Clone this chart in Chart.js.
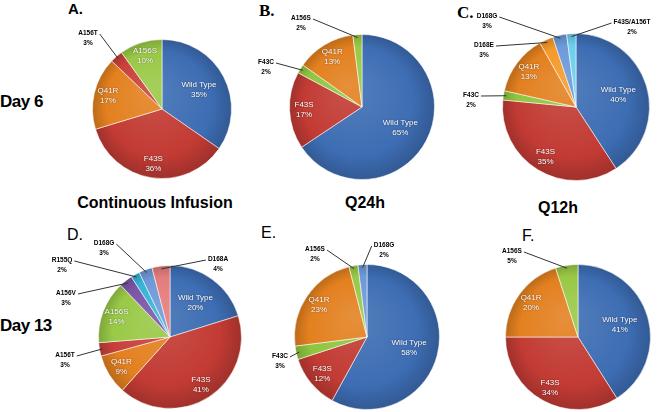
<!DOCTYPE html>
<html>
<head>
<meta charset="utf-8">
<style>
  body { margin: 0; background: #fff; }
  #wrap { position: relative; width: 664px; height: 412px; overflow: hidden; font-family: "Liberation Sans", Arial, sans-serif; }
  #wrap canvas { position: absolute; left: 0; top: 0; }
  .t { position: absolute; white-space: nowrap; color: #000; }
  .row { font-weight: bold; font-size: 17px; letter-spacing: -0.5px; }
  .col { font-weight: bold; font-size: 16px; letter-spacing: 0px; transform: translateX(-50%); }
  .pl { font-size: 15px; }
</style>
</head>
<body>
<div id="wrap">
  <div class="t row" style="left:0px;top:92px;">Day 6</div>
  <div class="t row" style="left:0px;top:316px;">Day 13</div>
  <div class="t col" style="left:155px;top:194px;">Continuous Infusion</div>
  <div class="t col" style="left:365px;top:194px;">Q24h</div>
  <div class="t col" style="left:558px;top:199px;">Q12h</div>
  <div class="t pl" style="left:68px;top:0px;font-weight:bold;">A.</div>
  <div class="t pl" style="left:259px;top:1px;font-family:'Liberation Serif';font-weight:bold;font-size:17px;">B.</div>
  <div class="t pl" style="left:457px;top:3px;font-family:'Liberation Serif';font-weight:bold;font-size:17px;">C.</div>
  <div class="t pl" style="left:67px;top:226px;font-size:16px;">D.</div>
  <div class="t pl" style="left:261px;top:224px;font-size:16px;">E.</div>
  <div class="t pl" style="left:522px;top:227px;font-size:16px;">F.</div>
  <canvas id="pieA" width="664" height="412"></canvas>
  <canvas id="pieB" width="664" height="412"></canvas>
  <canvas id="pieC" width="664" height="412"></canvas>
  <canvas id="pieD" width="664" height="412"></canvas>
  <canvas id="pieE" width="664" height="412"></canvas>
  <canvas id="pieF" width="664" height="412"></canvas>
</div>

<script src="https://cdn.jsdelivr.net/npm/chart.js"></script>
<script>
  // A. Day 6, continuous infusion
  const labelsA = ["Wild Type", "F43S", "Q41R", "A156T", "A156S"];
  const valuesA = [35, 36, 17, 3, 10];
  // B. Day 6, Q24h
  const labelsB = ["Wild Type", "F43S", "F43C", "Q41R", "A156S"];
  const valuesB = [65, 17, 2, 13, 2];
  // C. Day 6, Q12h
  const labelsC = ["Wild Type", "F43S", "F43C", "Q41R", "D168E", "D168G", "F43S/A156T"];
  const valuesC = [40, 35, 2, 13, 3, 3, 2];
  // D. Day 13, continuous infusion
  const labelsD = ["Wild Type", "F43S", "Q41R", "A156T", "A156S", "A156V", "R155Q", "D168G", "D168A"];
  const valuesD = [20, 41, 9, 3, 14, 3, 2, 3, 4];
  // E. Day 13, Q24h
  const labelsE = ["Wild Type", "F43S", "F43C", "Q41R", "A156S", "D168G"];
  const valuesE = [58, 12, 3, 23, 2, 2];
  // F. Day 13, Q12h
  const labelsF = ["Wild Type", "F43S", "Q41R", "A156S"];
  const valuesF = [41, 34, 20, 5];

  const colorOf = {
    "Wild Type": "#3d6db3", "F43S": "#c23b34", "Q41R": "#e3801f", "A156T": "#c9403a",
    "A156S": "#99c946", "F43C": "#8fc640", "A156V": "#7a55a8", "R155Q": "#36b3d6",
    "D168G": "#6d9ad8", "D168A": "#e47c7c", "D168E": "#f59a2a", "F43S/A156T": "#6ccfee"
  };

  // pie placement: [cx, cy, r] and where the small-slice callouts sit
  const pies = [
    { id: "pieA", labels: labelsA, values: valuesA, geo: [162, 109, 70], callouts: [[88, 33]] },
    { id: "pieB", labels: labelsB, values: valuesB, geo: [362, 107, 73], callouts: [[266, 62], [301, 18]] },
    { id: "pieC", labels: labelsC, values: valuesC, geo: [576, 107, 74],
      callouts: [[471, 95], [484, 45], [487, 16], [632, 22]] },
    { id: "pieD", labels: labelsD, values: valuesD, geo: [170, 337, 72],
      callouts: [[65, 355], [66, 293], [62, 260], [104, 243], [218, 259]] },
    { id: "pieE", labels: labelsE, values: valuesE, geo: [367, 337, 73],
      callouts: [[280, 356], [315, 249], [384, 245]] },
    { id: "pieF", labels: labelsF, values: valuesF, geo: [578, 337, 73], callouts: [[512, 251]] }
  ];

  function shade(hex, f) {
    const n = parseInt(hex.slice(1), 16);
    let r = n >> 16, g = (n >> 8) & 255, b = n & 255;
    if (f >= 0) { r += (255 - r) * f; g += (255 - g) * f; b += (255 - b) * f; }
    else { r *= 1 + f; g *= 1 + f; b *= 1 + f; }
    return `rgb(${Math.round(r)},${Math.round(g)},${Math.round(b)})`;
  }

  const labelPlugin = {
    id: "sliceLabels",
    afterDatasetsDraw(chart, args, opts) {
      const ctx = chart.ctx;
      const meta = chart.getDatasetMeta(0);
      const data = chart.data.datasets[0].data;
      let k = 0;
      ctx.save();
      ctx.textAlign = "center";
      ctx.textBaseline = "middle";
      meta.data.forEach((arc, i) => {
        const v = data[i];
        const name = chart.data.labels[i];
        const mid = (arc.startAngle + arc.endAngle) / 2;
        if (v > 5) {
          const f = i === 0 ? 0.6 : 0.8;
          const x = arc.x + Math.cos(mid) * arc.outerRadius * f;
          const y = arc.y + Math.sin(mid) * arc.outerRadius * f;
          ctx.font = "8px 'Liberation Sans'";
          ctx.fillStyle = "#fff";
          ctx.shadowColor = "rgba(0,0,0,0.6)";
          ctx.shadowBlur = 1.5;
          ctx.fillText(name, x, y - 5);
          ctx.fillText(v + "%", x, y + 5);
          ctx.shadowBlur = 0;
        } else {
          const p = opts.callouts[k++];
          if (!p) return;
          const ex = arc.x + Math.cos(mid) * arc.outerRadius * 0.96;
          const ey = arc.y + Math.sin(mid) * arc.outerRadius * 0.96;
          ctx.font = "bold 6.5px 'Liberation Sans'";
          const w = ctx.measureText(name).width;
          const sx = ex > p[0] ? p[0] + w / 2 + 2 : p[0] - w / 2 - 2;
          ctx.strokeStyle = "#333";
          ctx.lineWidth = 1;
          ctx.beginPath();
          ctx.moveTo(sx, p[1] + 1);
          ctx.lineTo(ex, ey);
          ctx.stroke();
          ctx.fillStyle = "#000";
          ctx.fillText(name, p[0], p[1]);
          ctx.fillText(v + "%", p[0], p[1] + 10);
        }
      });
      ctx.restore();
    }
  };

  pies.forEach((p) => {
    const [cx, cy, r] = p.geo;
    new Chart(document.getElementById(p.id), {
      type: "pie",
      data: {
        labels: p.labels,
        datasets: [{
          data: p.values,
          backgroundColor: (c) => {
            const base = colorOf[p.labels[c.dataIndex]] || "#888";
            const g = c.chart.ctx.createRadialGradient(cx - r * 0.2, cy - r * 0.3, 0, cx, cy, r);
            g.addColorStop(0, shade(base, 0.12));
            g.addColorStop(0.75, base);
            g.addColorStop(1, shade(base, -0.18));
            return g;
          },
          borderColor: "rgba(255,255,255,0.55)",
          borderWidth: 1
        }]
      },
      options: {
        responsive: false,
        animation: false,
        layout: { padding: { left: cx - r, right: 664 - cx - r, top: cy - r, bottom: 412 - cy - r } },
        plugins: {
          legend: { display: false },
          tooltip: { enabled: false },
          sliceLabels: { callouts: p.callouts }
        }
      },
      plugins: [labelPlugin]
    });
  });
</script>
</body>
</html>
